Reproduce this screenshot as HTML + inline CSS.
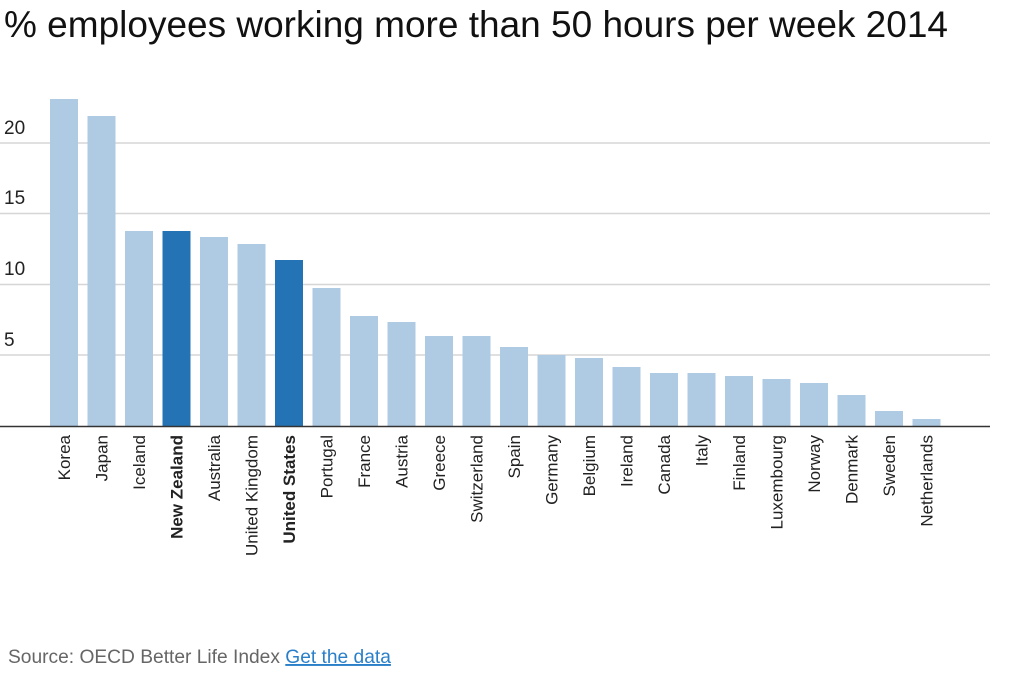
<!DOCTYPE html>
<html><head><meta charset="utf-8"><style>
body{margin:0;background:#fff;width:1024px;height:675px;overflow:hidden;font-family:"Liberation Sans",sans-serif}
</style></head><body>
<svg width="1024" height="675" xmlns="http://www.w3.org/2000/svg" font-family="Liberation Sans, sans-serif">
<text x="4" y="37" font-size="37" fill="#111" textLength="944" lengthAdjust="spacingAndGlyphs">% employees working more than 50 hours per week 2014</text>
<g stroke="#d6d6d6" stroke-width="1.5">
<line x1="0" x2="990" y1="143" y2="143"/><line x1="0" x2="990" y1="213.5" y2="213.5"/>
<line x1="0" x2="990" y1="284.5" y2="284.5"/><line x1="0" x2="990" y1="355" y2="355"/>
</g>
<g font-size="19" fill="#222">
<text x="4" y="134">20</text><text x="4" y="204">15</text><text x="4" y="275">10</text><text x="4" y="346">5</text>
</g>
<g id="bars"></g>
<line x1="0" x2="990" y1="426.5" y2="426.5" stroke="#333" stroke-width="1.5"/>
<g id="labels" font-size="17" fill="#222"></g>
<text x="8" y="663" font-size="19.2" fill="#666">Source: OECD Better Life Index <tspan fill="#2a7fc9" text-decoration="underline">Get the data</tspan></text>
<script>
var d=[["Korea",99],["Japan",116],["Iceland",231],["New Zealand",231,1],["Australia",237],["United Kingdom",244],["United States",260,1],["Portugal",288],["France",316],["Austria",322],["Greece",336],["Switzerland",336],["Spain",347],["Germany",355],["Belgium",358],["Ireland",367],["Canada",373],["Italy",373],["Finland",376],["Luxembourg",379],["Norway",383],["Denmark",395],["Sweden",411],["Netherlands",419]];
var b=document.getElementById("bars"),l=document.getElementById("labels"),ns="http://www.w3.org/2000/svg";
d.forEach(function(e,i){var x=50+i*37.5;var r=document.createElementNS(ns,"rect");r.setAttribute("x",x);r.setAttribute("width",28);r.setAttribute("y",e[1]);r.setAttribute("height",426-e[1]);r.setAttribute("fill",e[2]?"#2474b5":"#aecbe3");b.appendChild(r);
var t=document.createElementNS(ns,"text");var cx=x+14+6;t.setAttribute("transform","translate("+cx+",435) rotate(-90)");t.setAttribute("text-anchor","end");if(e[2])t.setAttribute("font-weight","bold");t.textContent=e[0];l.appendChild(t);});
</script>
</svg>
</body></html>
